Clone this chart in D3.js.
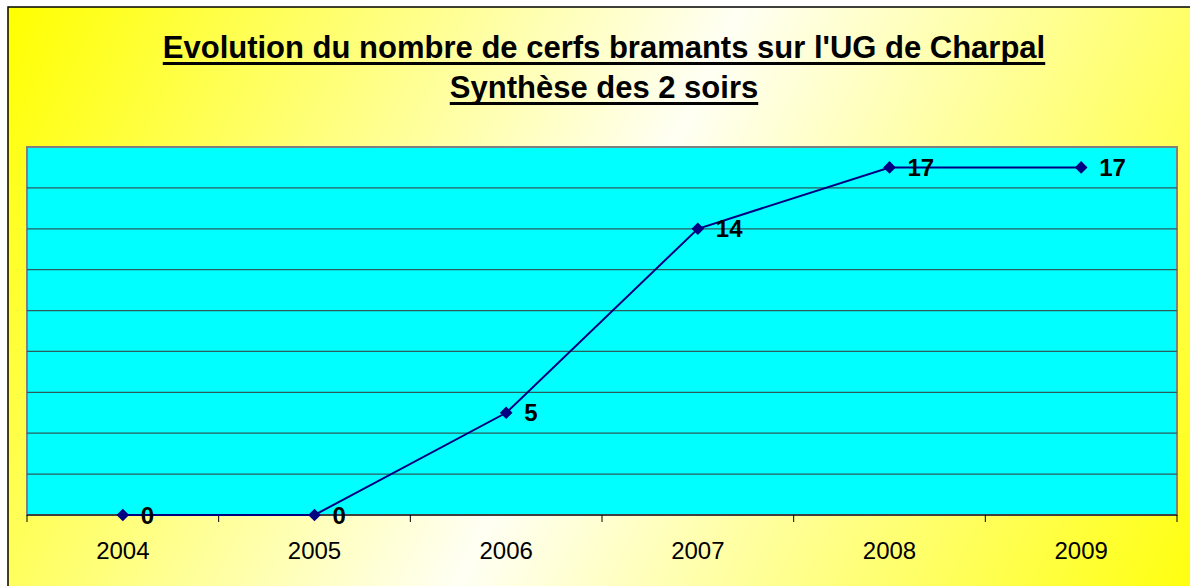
<!DOCTYPE html>
<html>
<head>
<meta charset="utf-8">
<script src="https://cdn.jsdelivr.net/npm/d3@7"></script>
<style>
  body { margin: 0; background: #fff; }
  svg { display: block; font-family: "Liberation Sans", Arial, sans-serif; }
</style>
</head>
<body>
<div id="chart"></div>
<script>
// Données
const annees = ["2004", "2005", "2006", "2007", "2008", "2009"];
const cerfs = [0, 0, 5, 14, 17, 17];
const graduations = [0, 2, 4, 6, 8, 10, 12, 14, 16, 18];
const titre = ["Evolution du nombre de cerfs bramants sur l'UG de Charpal", "Synthèse des 2 soirs"];

const W = 1190, H = 586;
const margin = { top: 147, right: 13, bottom: 71, left: 27 };
const width = W - margin.left - margin.right;
const height = H - margin.top - margin.bottom;

const svg = d3.select("#chart").append("svg")
    .attr("width", W)
    .attr("height", H);

// Fond dégradé jaune
const defs = svg.append("defs");
const grad = defs.append("linearGradient")
    .attr("id", "fond")
    .attr("gradientUnits", "userSpaceOnUse")
    .attr("x1", 8).attr("y1", 7)
    .attr("x2", 1190).attr("y2", 586);
grad.append("stop").attr("offset", "0%").attr("stop-color", "#ffff00");
grad.append("stop").attr("offset", "50%").attr("stop-color", "#fffff4");
grad.append("stop").attr("offset", "100%").attr("stop-color", "#ffff10");

svg.append("rect")
    .attr("x", 8).attr("y", 7)
    .attr("width", 1300).attr("height", 700)
    .attr("fill", "url(#fond)")
    .attr("stroke", "#000")
    .attr("stroke-width", 1.5);

// Titre souligné
titre.forEach((t, i) => {
  const txt = svg.append("text")
      .attr("x", 604)
      .attr("y", 58 + i * 40)
      .attr("text-anchor", "middle")
      .attr("font-size", "31px")
      .attr("font-weight", "bold")
      .attr("fill", "#000")
      .text(t);
  const bb = txt.node().getBBox();
  svg.append("line")
      .attr("x1", bb.x).attr("x2", bb.x + bb.width)
      .attr("y1", 58 + i * 40 + 5.5).attr("y2", 58 + i * 40 + 5.5)
      .attr("stroke", "#000")
      .attr("stroke-width", 3);
});

const g = svg.append("g")
    .attr("transform", `translate(${margin.left},${margin.top})`);

// Échelles
const x = d3.scaleBand().domain(annees).range([0, width]);
const y = d3.scaleLinear().domain([0, 18]).range([height, 0]);

// Zone de tracé
g.append("rect")
    .attr("width", width)
    .attr("height", height)
    .attr("fill", "#00ffff")
    .attr("stroke", "#808080")
    .attr("stroke-width", 2);

// Grille horizontale
g.selectAll(".grille")
    .data(graduations.filter(d => d > 0 && d < 18))
    .enter()
    .append("line")
    .attr("x1", 0).attr("x2", width)
    .attr("y1", d => y(d)).attr("y2", d => y(d))
    .attr("stroke", "#2b5d5d")
    .attr("stroke-width", 1.2);

// Axe X
g.append("line")
    .attr("x1", 0).attr("x2", width)
    .attr("y1", height).attr("y2", height)
    .attr("stroke", "#000").attr("stroke-width", 1.2);

const bornes = annees.map(a => x(a)).concat([width]);
g.selectAll(".tick-x")
    .data(bornes)
    .enter()
    .append("line")
    .attr("x1", d => d).attr("x2", d => d)
    .attr("y1", height).attr("y2", height + 7)
    .attr("stroke", "#000");

g.selectAll(".lab-x")
    .data(annees)
    .enter()
    .append("text")
    .attr("x", d => x(d) + x.bandwidth() / 2)
    .attr("y", height + 44)
    .attr("text-anchor", "middle")
    .attr("font-size", "24px")
    .attr("fill", "#000")
    .text(d => d);

// Courbe
const pts = annees.map((a, i) => ({ annee: a, val: cerfs[i] }));
const ligne = d3.line()
    .x(d => x(d.annee) + x.bandwidth() / 2)
    .y(d => y(d.val));

g.append("path")
    .datum(pts)
    .attr("d", ligne)
    .attr("fill", "none")
    .attr("stroke", "#000080")
    .attr("stroke-width", 2);

g.selectAll(".pt")
    .data(pts)
    .enter()
    .append("path")
    .attr("d", d3.symbol().type(d3.symbolSquare).size(80))
    .attr("transform", d => `translate(${x(d.annee) + x.bandwidth() / 2},${y(d.val)}) rotate(45)`)
    .attr("fill", "#000080");

g.selectAll(".val")
    .data(pts)
    .enter()
    .append("text")
    .attr("x", d => x(d.annee) + x.bandwidth() / 2 + 18)
    .attr("y", d => y(d.val))
    .attr("dy", "0.36em")
    .attr("font-size", "24px")
    .attr("font-weight", "bold")
    .attr("fill", "#000")
    .text(d => d.val);
</script>
</body>
</html>
